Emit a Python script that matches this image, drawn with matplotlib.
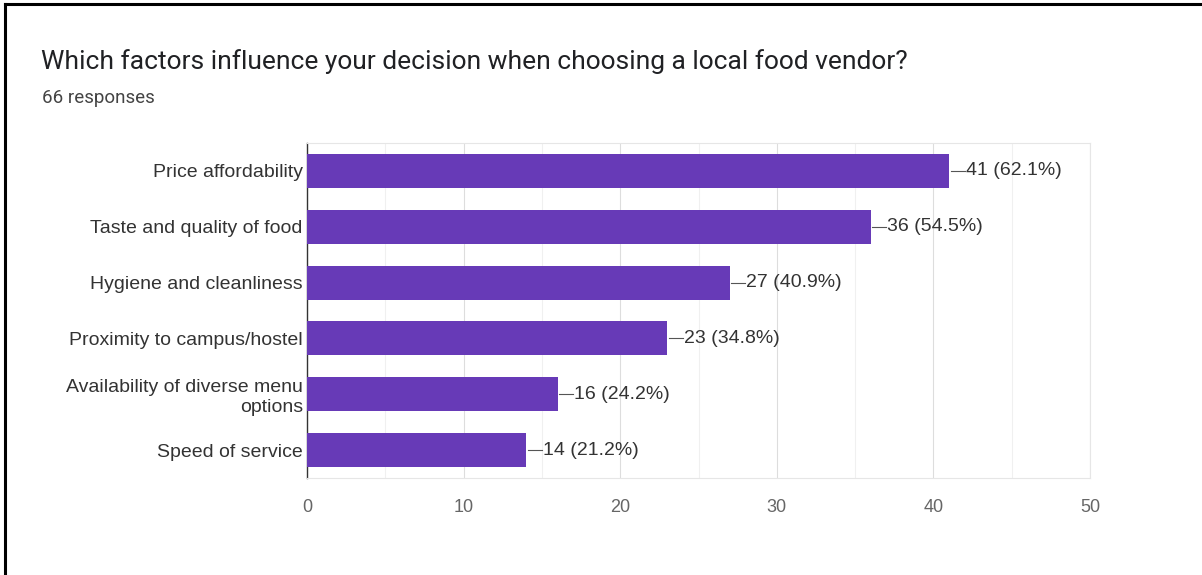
import matplotlib.pyplot as plt
from matplotlib.lines import Line2D

# survey data
factors = [
    "Price affordability",
    "Taste and quality of food",
    "Hygiene and cleanliness",
    "Proximity to campus/hostel",
    "Availability of diverse menu\noptions",
    "Speed of service",
]
counts = [41, 36, 27, 23, 16, 14]
percents = [62.1, 54.5, 40.9, 34.8, 24.2, 21.2]
total_responses = 66
x_ticks = [0, 10, 20, 30, 40, 50]

bar_color = "#673ab7"
plt.rcParams["font.family"] = ["Liberation Sans", "DejaVu Sans"]

fig = plt.figure(figsize=(12.02, 5.75), dpi=100)
ax = fig.add_axes([307 / 1202, 1 - 478 / 575, 783 / 1202, 335 / 575])

ypos = list(range(len(factors)))
ax.barh(ypos, counts, height=0.61, color=bar_color, zorder=3)

# value labels with short leader line
for y, c, p in zip(ypos, counts, percents):
    ax.plot([c + 0.1, c + 1.0], [y, y], color="#555555", lw=0.8,
            clip_on=False, zorder=3)
    ax.text(c + 1.05, y, f"{c} ({p}%)", va="center", ha="left",
            fontsize=14, color="#333333")

ax.set_yticks(ypos)
ax.set_yticklabels(factors, fontsize=14, color="#333333")
ax.set_ylim(len(factors) - 0.5, -0.5)
ax.set_xlim(0, 50)
ax.set_xticks(x_ticks)
ax.set_xticks([5, 15, 25, 35, 45], minor=True)
ax.tick_params(axis="x", which="both", length=0, pad=15, labelsize=13,
               labelcolor="#666666")
ax.tick_params(axis="y", length=0, pad=3)

ax.grid(axis="x", which="major", color="#dddddd", lw=0.8, zorder=0)
ax.grid(axis="x", which="minor", color="#f0f0f0", lw=0.8, zorder=0)
for side in ["top", "right", "bottom"]:
    ax.spines[side].set_color("#e6e6e6")
ax.spines["left"].set_color("#333333")
ax.spines["left"].set_linewidth(1.0)

fig.text(41 / 1202, 1 - 62 / 575,
         "Which factors influence your decision when choosing a local food vendor?",
         family="Roboto", fontsize=19, color="#202124", va="center")
fig.text(42 / 1202, 1 - 98 / 575, f"{total_responses} responses",
         family="Roboto", fontsize=13.5, color="#444444", va="center")

# outer frame (top and left edges only)
fig.add_artist(Line2D([5 / 1202, 1], [1 - 4 / 575, 1 - 4 / 575],
                      transform=fig.transFigure, color="black", lw=2.2))
fig.add_artist(Line2D([5 / 1202, 5 / 1202], [0, 1 - 4 / 575],
                      transform=fig.transFigure, color="black", lw=2.2))

fig.savefig("out.png", dpi=100)
